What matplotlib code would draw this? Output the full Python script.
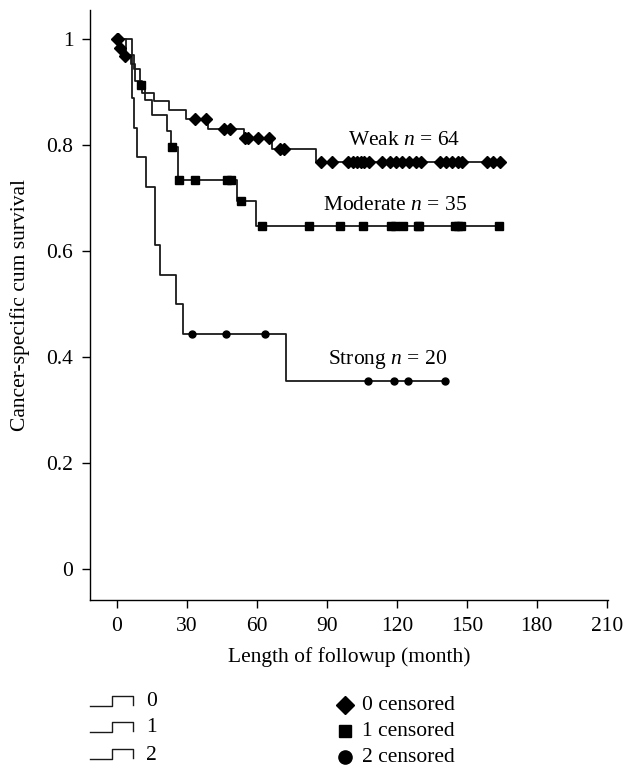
import numpy as np
import matplotlib
matplotlib.use("Agg")
import matplotlib.pyplot as plt
from matplotlib.lines import Line2D

plt.rcParams['font.family'] = ['Liberation Serif', 'DejaVu Serif']
plt.rcParams['mathtext.fontset'] = 'custom'
plt.rcParams['mathtext.rm'] = 'Liberation Serif'
plt.rcParams['mathtext.it'] = 'Liberation Serif:italic'

# ---- data ----
weak_t = [0, 1, 3, 6, 8, 11, 16, 22.3, 29.6, 39.1, 54.4, 66.6, 85.2]
weak_s = [1.0, 0.984, 0.969, 0.953, 0.922, 0.898, 0.884, 0.866, 0.849, 0.831, 0.814, 0.792, 0.769]
weak_c = [0, 0.7, 1.4, 3.4, 33.4, 38.1, 46, 48.4, 54.8, 56.3, 60.6, 65.1, 69.9, 71.7,
          87.7, 92, 99, 101, 103, 104.5, 106, 108, 113.5, 117, 119.5, 122, 125, 128,
          130.5, 138.5, 141, 143.5, 146, 148, 158.5, 161.3, 164]

mod_t = [0, 4, 7.5, 10, 12, 15.1, 21.6, 23.4, 26.3, 51.3, 59.6]
mod_s = [1.0, 0.971, 0.943, 0.914, 0.886, 0.857, 0.826, 0.797, 0.735, 0.694, 0.648]
mod_c = [10.5, 23.8, 26.6, 33.4, 47, 49, 53.4, 62.4, 82.4, 95.6, 105.6, 117.4, 119.2,
         122.7, 128.9, 129.6, 144.9, 146.3, 147.7, 163.7]

strong_t = [0, 6.3, 7.4, 8.5, 12.4, 16.4, 18.3, 25.3, 28.4, 72.4]
strong_s = [1.0, 0.889, 0.833, 0.778, 0.722, 0.611, 0.556, 0.5, 0.444, 0.356]
strong_c = [32.3, 46.6, 63.4, 107.7, 118.7, 124.6, 140.7]

group_labels = ['Weak', 'Moderate', 'Strong']
group_n = [64, 35, 20]
legend_codes = ['0', '1', '2']
x_ticks = [0, 30, 60, 90, 120, 150, 180, 210]
y_ticks = [0, 0.2, 0.4, 0.6, 0.8, 1.0]
y_ticklabels = ['0', '0.2', '0.4', '0.6', '0.8', '1']

W, H = 624, 769
fig = plt.figure(figsize=(W / 100, H / 100), dpi=100)
ax = fig.add_axes([90 / W, 1 - 600 / H, (608 - 90) / W, (600 - 10) / H])

line_col = '#1a1a1a'
markers = ['D', 's', 'o']
msizes = [6.0, 5.4, 5.0]

groups = [(weak_t, weak_s, weak_c), (mod_t, mod_s, mod_c), (strong_t, strong_s, strong_c)]
for (t, s, c), m, ms in zip(groups, markers, msizes):
    t = np.asarray(t, float)
    s = np.asarray(s, float)
    c = np.asarray(c, float)
    tend = max(t[-1], c.max())
    tt = np.append(t, tend)
    ss = np.append(s, s[-1])
    ax.step(tt, ss, where='post', color=line_col, lw=1.3, zorder=2)
    idx = np.searchsorted(t, c, side='right') - 1
    ax.plot(c, s[idx], linestyle='none', marker=m, ms=ms, color='black', zorder=3)

ax.set_xlim(-11.5, 210.5)
ax.set_ylim(-0.058, 1.055)
ax.set_xticks(x_ticks)
ax.set_yticks(y_ticks)
ax.set_yticklabels(y_ticklabels)
for sp in ['top', 'right']:
    ax.spines[sp].set_visible(False)
for sp in ['left', 'bottom']:
    ax.spines[sp].set_linewidth(1.0)
ax.tick_params(direction='out', length=6, width=1.0, labelsize=15.5, pad=6)
ax.set_xlabel('Length of followup (month)', fontsize=15.5, labelpad=8)
ax.set_ylabel('Cancer-specific cum survival', fontsize=15.5, labelpad=12)

# group annotations
ann_pos = [(99, 0.808), (88.3, 0.687), (90.4, 0.396)]
for lab, n, (x, y) in zip(group_labels, group_n, ann_pos):
    ax.text(x, y, f'{lab} $n$ = {n}', fontsize=15.5, ha='left', va='center')

# bottom legends (figure pixel coordinates)
def fx(px):
    return px / W

def fy(py):
    return 1 - py / H

rows_left = [702, 728, 755]
for code, ry in zip(legend_codes, rows_left):
    base = ry + 4
    top = ry - 6
    xs = [90, 112, 112, 133, 133]
    ys = [base, base, top, top, base - 1]
    fig.add_artist(Line2D([fx(v) for v in xs], [fy(v) for v in ys], color=line_col, lw=1.0))
    fig.text(fx(146), fy(ry), code, fontsize=15.5, ha='left', va='center')

rows_right = [705, 731, 757]
for code, m, ms, ry in zip(legend_codes, markers, [9.5, 8.5, 9.5], rows_right):
    fig.add_artist(Line2D([fx(345)], [fy(ry)], marker=m, ms=ms, color='black', linestyle='none'))
    fig.text(fx(362), fy(ry), f'{code} censored', fontsize=15.5, ha='left', va='center')

fig.savefig('out.png', dpi=100)
